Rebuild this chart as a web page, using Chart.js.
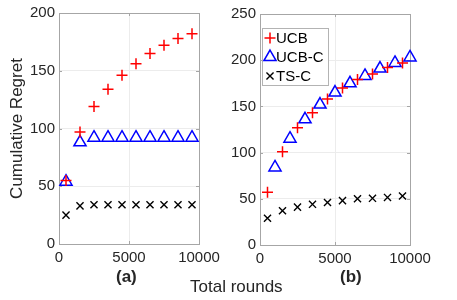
<!DOCTYPE html>
<html>
<head>
<meta charset="utf-8">
<script src="https://cdn.jsdelivr.net/npm/chart.js@4.4.1/dist/chart.umd.min.js"></script>
<style>
  body { margin: 0; background: #fff; }
  #wrap { position: relative; width: 457px; height: 300px; overflow: hidden; font-family: "Liberation Sans", Arial, sans-serif; color: #262626; }
  canvas { position: absolute; top: 0; }
  .cap { position: absolute; white-space: nowrap; line-height: 1; }
</style>
</head>
<body>
<div id="wrap">
  <canvas id="chartA" width="228" height="300" style="left:0"></canvas>
  <canvas id="chartB" width="229" height="300" style="left:228px"></canvas>
  <div class="cap" style="left:190px; top:278px; font-size:17px;">Total rounds</div>
  <div class="cap" style="left:116px; top:268px; font-size:17px; font-weight:bold;">(a)</div>
  <div class="cap" style="left:340px; top:268px; font-size:17px; font-weight:bold;">(b)</div>
</div>
<script>
// panel (a)
const roundsA = [500, 1500, 2500, 3500, 4500, 5500, 6500, 7500, 8500, 9500];
const ucbA = [55, 97, 119, 134, 146, 156, 165, 172, 178, 182];
const ucbcA = [54, 88, 92, 92, 92, 92, 92, 92, 92, 92];
const tscA = [25, 33, 34, 34, 34, 34, 34, 34, 34, 34];

// panel (b)
const roundsB = [500, 1500, 2500, 3500, 4500, 5500, 6500, 7500, 8500, 9500];
const roundsBC = [1000, 2000, 3000, 4000, 5000, 6000, 7000, 8000, 9000, 10000];
const ucbB = [57, 101, 127, 143, 158, 170, 179, 185, 192, 197];
const ucbcB = [84, 115, 136, 152, 165, 175, 183, 191, 197, 203];
const tscB = [29, 37, 41, 44, 46, 48, 50, 50.5, 51.5, 53];

const xTicks = [0, 5000, 10000];
const yTicksA = [0, 50, 100, 150, 200];
const yTicksB = [0, 50, 100, 150, 200, 250];

const FONT = "'Liberation Sans', Arial, sans-serif";
const TXT = '#262626';

function pts(xs, ys) {
  return xs.map((x, i) => ({ x: x, y: ys[i] }));
}

function makeSets(x1, u, x2, uc, x3, ts) {
  return [
    { label: 'UCB', data: pts(x1, u), pointStyle: 'cross', pointRadius: 5.5,
      borderColor: '#ff0000', borderWidth: 1.5, showLine: false, clip: false },
    { label: 'UCB-C', data: pts(x2, uc), pointStyle: 'triangle', pointRadius: 7,
      borderColor: '#0000ff', backgroundColor: 'rgba(0,0,0,0)', borderWidth: 1.5, showLine: false, clip: false },
    { label: 'TS-C', data: pts(x3, ts), pointStyle: 'crossRot', pointRadius: 5,
      borderColor: '#000000', borderWidth: 1.4, showLine: false, clip: false }
  ];
}

// matlab style box with small inner ticks
const boxPlugin = {
  id: 'box',
  beforeDatasetsDraw(chart) {
    const { ctx, chartArea: a, scales } = chart;
    ctx.save();
    ctx.strokeStyle = '#a6a6a6';
    ctx.lineWidth = 1;
    ctx.strokeRect(Math.round(a.left) + 0.5, Math.round(a.top) + 0.5,
      Math.round(a.right - a.left), Math.round(a.bottom - a.top));
    ctx.beginPath();
    scales.x.ticks.forEach(t => {
      const px = Math.round(scales.x.getPixelForValue(t.value)) + 0.5;
      ctx.moveTo(px, a.bottom); ctx.lineTo(px, a.bottom - 3);
      ctx.moveTo(px, a.top); ctx.lineTo(px, a.top + 3);
    });
    scales.y.ticks.forEach(t => {
      const py = Math.round(scales.y.getPixelForValue(t.value)) + 0.5;
      ctx.moveTo(a.left, py); ctx.lineTo(a.left + 3, py);
      ctx.moveTo(a.right, py); ctx.lineTo(a.right - 3, py);
    });
    ctx.stroke();
    ctx.restore();
  }
};

// legend inside panel (b)
const insideLegend = {
  id: 'insideLegend',
  afterDatasetsDraw(chart) {
    const ctx = chart.ctx;
    const bx = 34, by = 28, bw = 66, bh = 57;
    ctx.save();
    ctx.fillStyle = '#fff';
    ctx.fillRect(bx, by, bw, bh);
    ctx.strokeStyle = '#b3b3b3';
    ctx.lineWidth = 1;
    ctx.strokeRect(bx + 0.5, by + 0.5, bw, bh);
    const rows = [38, 57, 76];
    chart.data.datasets.forEach((ds, i) => {
      const el = chart.getDatasetMeta(i).data[0];
      const o = el.options;
      ctx.strokeStyle = o.borderColor;
      ctx.fillStyle = o.backgroundColor;
      ctx.lineWidth = o.borderWidth;
      Chart.helpers.drawPoint(ctx, {
        pointStyle: o.pointStyle, radius: o.radius, rotation: 0, borderWidth: o.borderWidth
      }, 42, rows[i]);
      ctx.fillStyle = '#000';
      ctx.font = '15px ' + FONT;
      ctx.textBaseline = 'middle';
      ctx.fillText(ds.label, 48, rows[i] + 1);
    });
    ctx.restore();
  }
};

function axisOpts(yMax, yTicks, yWidth, withTitle) {
  return {
    x: {
      type: 'linear', min: 0, max: 10000,
      afterBuildTicks: s => { s.ticks = xTicks.map(v => ({ value: v })); },
      ticks: { font: { size: 15, family: FONT }, color: TXT, padding: 5, maxRotation: 0, autoSkip: false,
        callback: v => String(v) },
      grid: { color: '#ececec', drawTicks: false },
      border: { display: false },
      afterFit: s => { s.height = withTitle ? 56 : 55; }
    },
    y: {
      min: 0, max: yMax,
      afterBuildTicks: s => { s.ticks = yTicks.map(v => ({ value: v })); },
      ticks: { font: { size: 15, family: FONT }, color: TXT, padding: 4, autoSkip: false,
        callback: v => String(v) },
      grid: { color: '#ececec', drawTicks: false },
      border: { display: false },
      title: { display: withTitle, text: 'Cumulative Regret', color: TXT,
        font: { size: 17, family: FONT }, padding: { top: 7, bottom: 0 } },
      afterFit: s => { s.width = yWidth; }
    }
  };
}

new Chart(document.getElementById('chartA'), {
  type: 'scatter',
  data: { datasets: makeSets(roundsA, ucbA, roundsA, ucbcA, roundsA, tscA) },
  options: {
    responsive: false, animation: false, events: [], devicePixelRatio: 1,
    layout: { padding: { top: 12, right: 29, left: 0, bottom: 0 } },
    plugins: { legend: { display: false }, tooltip: { enabled: false } },
    scales: axisOpts(200, yTicksA, 59, true)
  },
  plugins: [boxPlugin]
});

new Chart(document.getElementById('chartB'), {
  type: 'scatter',
  data: { datasets: makeSets(roundsB, ucbB, roundsBC, ucbcB, roundsB, tscB) },
  options: {
    responsive: false, animation: false, events: [], devicePixelRatio: 1,
    layout: { padding: { top: 14, right: 47, left: 0, bottom: 0 } },
    plugins: { legend: { display: false }, tooltip: { enabled: false } },
    scales: axisOpts(250, yTicksB, 32, false)
  },
  plugins: [boxPlugin, insideLegend]
});
</script>
</body>
</html>
